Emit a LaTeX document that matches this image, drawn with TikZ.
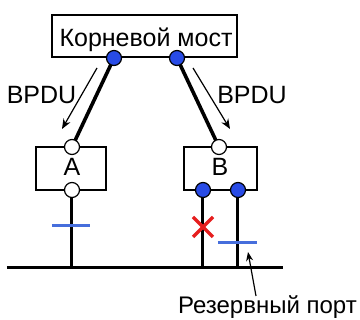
\documentclass[tikz,border=0pt]{standalone}
\usepackage{fontspec}
\setmainfont{Liberation Sans}
\usetikzlibrary{arrows.meta,backgrounds}
\definecolor{portblue}{RGB}{40,75,230}
\definecolor{barblue}{RGB}{70,110,220}
\definecolor{xred}{RGB}{230,30,30}
\begin{document}
\begin{tikzpicture}[x=1pt,y=-1pt,
  lbl/.style={font=\fontsize{25}{28}\selectfont,inner sep=0pt,anchor=base},
  bridge/.style={draw=black,line width=2pt,inner sep=0pt},
  rootport/.style={circle,draw=black,line width=1.2pt,fill=portblue,minimum size=15pt,inner sep=0pt},
  openport/.style={circle,draw=black,line width=1.2pt,fill=white,minimum size=15pt,inner sep=0pt},
  link/.style={line width=3.6pt},
  wire/.style={line width=3pt},
  bpdu/.style={line width=1.2pt,-{Stealth[length=10pt,width=8pt]}},
  bar/.style={barblue,line width=3pt},
  cross/.style={xred,line width=3.5pt}]
\useasboundingbox (0,0) rectangle (360,320);
% bridges
\node[bridge,minimum width=185pt,minimum height=42pt] (root) at (144.5,36) {};
\node[bridge,minimum width=70pt,minimum height=43pt] (A) at (71,168.5) {};
\node[bridge,minimum width=73pt,minimum height=43pt] (B) at (221,168.5) {};
% labels
\node[lbl] (rootlbl) at (146,47) {Корневой мост};
\node[lbl] (Albl) at (72,176) {A};
\node[lbl] (Blbl) at (220,176) {B};
\node[lbl] (bpduL) at (41.5,104) {BPDU};
\node[lbl] (bpduR) at (252,104) {BPDU};
\node[lbl,font=\fontsize{24}{27}\selectfont,anchor=base east] (rez) at (357,314) {Резервный порт};
% ports
\node[rootport] (r1) at (114,58) {};
\node[rootport] (r2) at (177,58) {};
\node[openport] (a1) at (72,147) {};
\node[openport] (a2) at (72,190) {};
\node[openport] (b1) at (219,147) {};
\node[rootport] (b2) at (203,190) {};
\node[rootport] (b3) at (238,190) {};
% bus coordinates
\coordinate (busL) at (7,268);
\coordinate (busR) at (283,268);
\coordinate (ta) at (72,268);
\coordinate (tb2) at (203,268);
\coordinate (tb3) at (238,268);
\begin{scope}[on background layer]
\draw[link] (r1.center) -- (a1.center);
\draw[link] (r2.center) -- (b1.center);
\draw[wire] (a2.center) -- (ta);
\draw[wire] (b2.center) -- (tb2);
\draw[wire] (b3.center) -- (tb3);
\end{scope}
\draw[wire] (busL) -- (busR);
% BPDU arrows
\coordinate (bl1) at (97,68);
\coordinate (bl2) at (62,129);
\coordinate (br1) at (193,68);
\coordinate (br2) at (230,129);
\draw[bpdu] (bl1) -- (bl2);
\draw[bpdu] (br1) -- (br2);
% blocking marks
\coordinate (barA1) at (52,226);
\coordinate (barA2) at (90,226);
\coordinate (barB1) at (218,243);
\coordinate (barB2) at (257,243);
\draw[bar] (barA1) -- (barA2);
\draw[bar] (barB1) -- (barB2);
\coordinate (xc) at (203,227);
\draw[cross] ([shift={(-10,-10)}]xc) -- ([shift={(10,10)}]xc);
\draw[cross] ([shift={(-10,10)}]xc) -- ([shift={(10,-10)}]xc);
% label arrow
\coordinate (rezarr) at (248,252);
\draw[line width=1.2pt,-{Stealth[length=9pt,width=7pt]}] (256,296) -- (rezarr);
\end{tikzpicture}
\end{document}
